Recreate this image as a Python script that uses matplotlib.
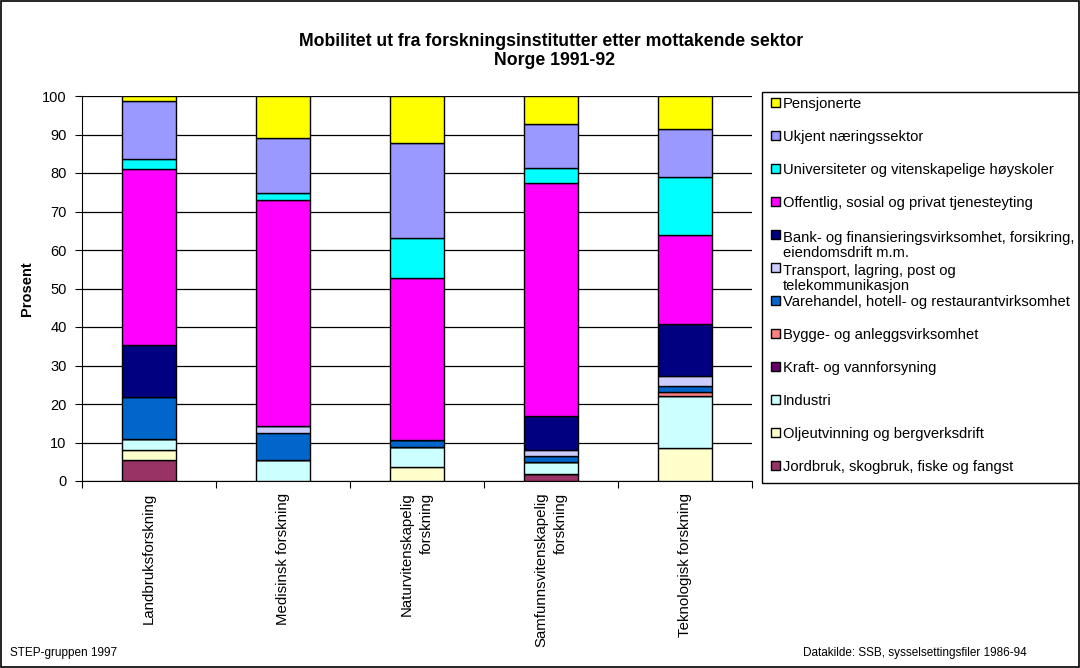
import matplotlib
matplotlib.use("Agg")
import matplotlib.pyplot as plt
from matplotlib.patches import Rectangle
import numpy as np

plt.rcParams["font.family"] = ["Liberation Sans", "DejaVu Sans"]

categories = [
    "Landbruksforskning",
    "Medisinsk forskning",
    "Naturvitenskapelig\nforskning",
    "Samfunnsvitenskapelig\nforskning",
    "Teknologisk forskning",
]

# stacked from bottom to top
sectors = [
    "Jordbruk, skogbruk, fiske og fangst",
    "Oljeutvinning og bergverksdrift",
    "Industri",
    "Kraft- og vannforsyning",
    "Bygge- og anleggsvirksomhet",
    "Varehandel, hotell- og restaurantvirksomhet",
    "Transport, lagring, post og\ntelekommunikasjon",
    "Bank- og finansieringsvirksomhet, forsikring,\neiendomsdrift m.m.",
    "Offentlig, sosial og privat tjenesteyting",
    "Universiteter og vitenskapelige høyskoler",
    "Ukjent næringssektor",
    "Pensjonerte",
]

jordbruk = [5.4, 0.0, 0.0, 1.7, 0.0]
olje = [2.7, 0.0, 3.6, 0.0, 8.7]
industri = [2.8, 5.4, 5.2, 3.2, 13.3]
kraft = [0.0, 0.0, 0.0, 0.0, 0.0]
bygge = [0.0, 0.0, 0.0, 0.0, 1.1]
varehandel = [10.8, 7.1, 1.8, 1.6, 1.7]
transport = [0.0, 1.8, 0.0, 1.6, 2.4]
bank = [13.6, 0.0, 0.0, 8.9, 13.5]
offentlig = [45.7, 58.8, 42.2, 60.4, 23.3]
universitet = [2.7, 1.7, 10.3, 4.0, 14.9]
ukjent = [14.9, 14.4, 24.6, 11.2, 12.6]
pensjonerte = [1.5, 10.7, 12.3, 7.4, 8.4]

series = [jordbruk, olje, industri, kraft, bygge, varehandel, transport,
          bank, offentlig, universitet, ukjent, pensjonerte]
colors = ["#993366", "#FFFFCC", "#CCFFFF", "#660066", "#FF8080", "#0066CC",
          "#CCCCFF", "#000080", "#FF00FF", "#00FFFF", "#9999FF", "#FFFF00"]

W, H = 1080, 668
fig = plt.figure(figsize=(W / 100, H / 100), dpi=100)
ax = fig.add_axes([82 / W, 1 - 481 / H, (752 - 82) / W, (481 - 96) / H])

x = np.arange(len(categories))
bottom = np.zeros(len(categories))
for vals, label, color in zip(series, sectors, colors):
    vals = np.array(vals)
    ax.bar(x, vals, 0.41, bottom=bottom, color=color, edgecolor="black",
           linewidth=1.0, label=label, zorder=3)
    bottom += vals

ax.set_xlim(-0.5, len(categories) - 0.5)
ax.set_ylim(0, 100)
ax.set_yticks(range(0, 101, 10))
ax.yaxis.grid(True, color="black", linewidth=0.9, zorder=0)
ax.set_axisbelow(True)
ax.tick_params(axis="y", labelsize=10.5, length=5, direction="out", pad=6)
ax.set_xticks(np.arange(-0.5, len(categories), 1.0))
ax.set_xticklabels([])
ax.tick_params(axis="x", length=5, direction="out")
for xi, cat in zip(x, categories):
    ax.text(xi, -0.03, cat, rotation=90, ha="center", va="top",
            multialignment="right", fontsize=10.8, linespacing=1.55,
            transform=ax.get_xaxis_transform())
for side in ("top", "right"):
    ax.spines[side].set_visible(False)
ax.set_ylabel("Prosent", fontsize=10.5, fontweight="bold")
ax.yaxis.set_label_coords(-0.071, 0.5)

fig.text(551 / W, 1 - 46.5 / H, "Mobilitet ut fra forskningsinstitutter etter mottakende sektor",
         ha="center", va="baseline", fontsize=12.7, fontweight="bold")
fig.text(554 / W, 1 - 65 / H, "Norge 1991-92",
         ha="center", va="baseline", fontsize=12.7, fontweight="bold")

# legend drawn Excel-style: fixed pitch per entry, box running off the right edge
fig.patches.append(Rectangle((762 / W, 1 - 483 / H), 340 / W, (483 - 92) / H,
                             transform=fig.transFigure, fill=False,
                             edgecolor="black", linewidth=1.0))
for i, (label, color) in enumerate(zip(sectors[::-1], colors[::-1])):
    base = 107.7 + 33 * i
    fig.patches.append(Rectangle((771 / W, 1 - (base - 1) / H), 9 / W, 9 / H,
                                 transform=fig.transFigure, facecolor=color,
                                 edgecolor="black", linewidth=1.0))
    # baseline alignment uses the last line, so push multi-line labels down
    extra = 17.5 * label.count("\n")
    fig.text(783 / W, 1 - (base + extra) / H, label, ha="left", va="baseline",
             fontsize=10.6, linespacing=1.15)

fig.text(10 / W, 1 - 653 / H, "STEP-gruppen 1997", ha="left", va="center", fontsize=8.5)
fig.text(803 / W, 1 - 653 / H, "Datakilde: SSB, sysselsettingsfiler 1986-94",
         ha="left", va="center", fontsize=8.5)

fig.patches.append(Rectangle((0.001, 0.0015), 0.998, 0.997, transform=fig.transFigure,
                             fill=False, edgecolor="black", linewidth=1.2))

fig.savefig("out.png", dpi=100)
